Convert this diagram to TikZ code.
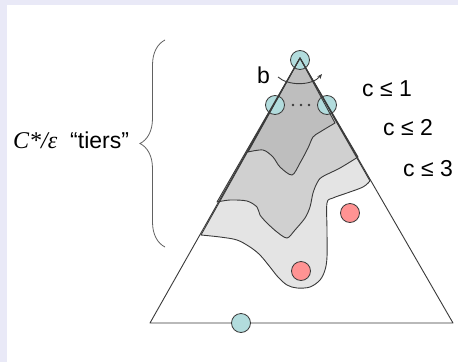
\documentclass[tikz,border=0pt]{standalone}
\usepackage{fontspec}
\setmainfont{Liberation Sans}
\newfontfamily\serifit{Liberation Serif}
\usetikzlibrary{decorations.pathreplacing,arrows.meta}
\definecolor{bgl}{HTML}{E9E9F7}
\definecolor{tierA}{HTML}{BEBEBE}
\definecolor{tierB}{HTML}{D0D0D0}
\definecolor{tierC}{HTML}{E4E4E4}
\definecolor{bluec}{HTML}{B2DCDD}
\definecolor{redc}{HTML}{FF9393}
\definecolor{edge}{HTML}{3A3A3A}
\tikzset{
  bluedot/.style={circle,draw=edge,fill=bluec,line width=0.8pt,minimum size=19pt,inner sep=0pt},
  reddot/.style={circle,draw=edge,fill=redc,line width=0.8pt,minimum size=19pt,inner sep=0pt},
  smalldot/.style={circle,fill=edge,minimum size=2.8pt,inner sep=0pt},
  tierline/.style={draw=edge,line width=0.9pt,line join=round},
  lbl/.style={font=\fontsize{23}{25}\selectfont,inner sep=0pt,anchor=base west}
}
\begin{document}
\begin{tikzpicture}[x=1pt,y=-1pt]
\useasboundingbox (0,0) rectangle (458,362);
\fill[bgl] (0,0) rectangle (458,362);
\fill[white] (7,5) rectangle (458,362);
\coordinate (apex) at (300,58);
\coordinate (bl) at (150,323);
\coordinate (br) at (453,323);
% tier paths
\def\tierC{(apex) -- plot[smooth,tension=0.55] coordinates {(201,235) (220,237) (237,240) (250,247) (260,255) (270,267) (278,277) (287,285) (297,288) (310,287) (320,280) (325,270) (327,257) (327,230) (327,203) (333,198) (347,193) (363,187) (370,181)} -- cycle}
\def\tierB{(apex) -- plot[smooth,tension=0.5] coordinates {(217,202) (230,200) (247,201) (257,207) (260,215) (267,223) (277,232) (287,238) (295,230) (305,218) (310,207) (313,193) (317,183) (322,177) (340,168) (358,157)} -- cycle}
\def\tierA{(apex) -- plot[smooth,tension=0.5] coordinates {(248,152) (263,150) (273,157) (280,167) (292,175) (300,163) (308,148) (313,137) (320,132) (335,123)} -- cycle}
\fill[tierC] \tierC;
\fill[tierB] \tierB;
\fill[tierA] \tierA;
% top dots
\node[bluedot] (t0) at (300,60) {};
\node[bluedot] (t1) at (275,105) {};
\node[bluedot] (t2) at (327,105) {};
\node[smalldot] (d1) at (293,105) {};
\node[smalldot] (d2) at (301,105) {};
\node[smalldot] (d3) at (309,105) {};
% outlines
\path[tierline] \tierC;
\path[tierline] \tierB;
\path[tierline] \tierA;
\draw[edge,line width=0.9pt,line join=round] (apex) -- (bl) -- (br) -- cycle;
% other dots
\node[bluedot] (s) at (241,323) {};
\node[reddot] (r1) at (350,213) {};
\node[reddot] (r2) at (301,271) {};
% b arc
\node[lbl] (b) at (257,83) {b};
\draw[edge,line width=0.9pt,-{Stealth[length=5pt,width=4pt]}] (278,77) .. controls (288,86) and (312,86) .. (322,74);
% c labels
\node[lbl] (c1) at (362,96) {c ≤ 1};
\node[lbl] (c2) at (383,135) {c ≤ 2};
\node[lbl] (c3) at (403,176) {c ≤ 3};
% brace and label
\draw[edge!80,line width=0.8pt,decorate,decoration={brace,amplitude=25pt}] (165,247) -- (165,40);
\node[lbl,font=\fontsize{24}{26}\selectfont] (cs) at (13,148) {\serifit\itshape C*/ε};
\node[lbl] (ti) at (70,148) {“tiers”};
\end{tikzpicture}
\end{document}
